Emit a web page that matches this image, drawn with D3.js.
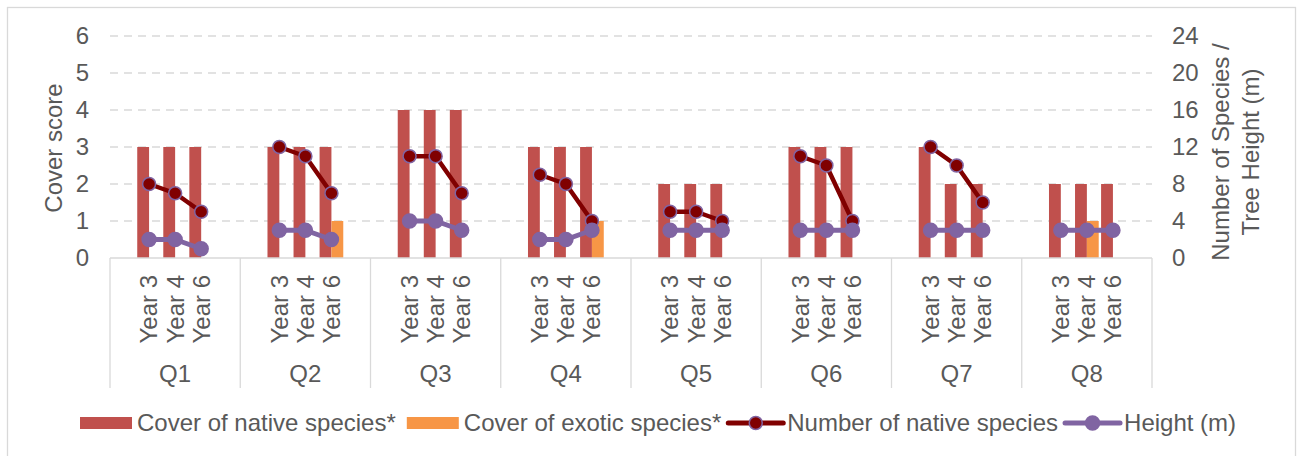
<!DOCTYPE html>
<html>
<head>
<meta charset="utf-8">
<script src="https://cdn.jsdelivr.net/npm/d3@7"></script>
<style>
  html, body { margin: 0; padding: 0; background: #fff; }
  svg text { font-family: "Liberation Sans", Arial, sans-serif; fill: #595959; }
</style>
</head>
<body>
<svg id="chart" width="1300" height="456"></svg>
<script>
const categories = ["Q1", "Q2", "Q3", "Q4", "Q5", "Q6", "Q7", "Q8"];
const years = ["Year 3", "Year 4", "Year 6"];
const nativeCover = [[3,3,3],[3,3,3],[4,4,4],[3,3,3],[2,2,2],[3,3,3],[3,2,2],[2,2,2]];
const exoticCover = [[0,0,0],[0,0,1],[0,0,0],[0,0,1],[0,0,0],[0,0,0],[0,0,0],[0,1,0]];
const nativeSpecies = [[8,7,5],[12,11,7],[11,11,7],[9,8,4],[5,5,4],[11,10,4],[12,10,6],[null,null,null]];
const heightM = [[2,2,1],[3,3,2],[4,4,3],[2,2,3],[3,3,3],[3,3,3],[3,3,3],[3,3,3]];
const leftTicks = [0, 1, 2, 3, 4, 5, 6];
const rightTicks = [0, 4, 8, 12, 16, 20, 24];
const seriesNames = ["Cover of native species*", "Cover of exotic species*", "Number of native species", "Height (m)"];

const C_NATIVE = "#C0504D", C_EXOTIC = "#F79646", C_NUM = "#800000", C_HT = "#8064A2";
const GRID = "#D9D9D9";
const FS = 24;

const svg = d3.select("#chart");
const plot = { left: 110, right: 1152, top: 36, bottom: 258 };

// outer border
svg.append("rect").attr("x", 7.5).attr("y", 7.5).attr("width", 1288).attr("height", 470)
  .attr("fill", "#fff").attr("stroke", GRID).attr("stroke-width", 1.3);

const x0 = d3.scaleBand().domain(categories).range([plot.left, plot.right]).paddingInner(0).paddingOuter(0);
const x1 = d3.scaleBand().domain(years).range([0, x0.bandwidth()]).paddingInner(0).paddingOuter(1);
const x2 = d3.scaleBand().domain(["native", "exotic"]).range([0, x1.bandwidth()]).paddingInner(0).paddingOuter(0.1);
const yL = d3.scaleLinear().domain([0, 6]).range([plot.bottom, plot.top]);
const yR = d3.scaleLinear().domain([0, 24]).range([plot.bottom, plot.top]);

// gridlines
svg.append("g").selectAll("line").data(leftTicks.filter(d => d > 0)).join("line")
  .attr("x1", plot.left).attr("x2", plot.right)
  .attr("y1", d => yL(d)).attr("y2", d => yL(d))
  .attr("stroke", GRID).attr("stroke-width", 1.3).attr("stroke-dasharray", "8,6");

// left axis labels
const gL = svg.append("g").attr("transform", `translate(${plot.left},0)`)
  .call(d3.axisLeft(yL).tickValues(leftTicks).tickSize(0).tickPadding(21).tickFormat(d3.format("d")));
gL.select(".domain").remove();
gL.selectAll("text").attr("font-size", FS).attr("fill", "#595959").attr("font-family", "Liberation Sans, Arial, sans-serif");

// right axis labels
const gR = svg.append("g").attr("transform", `translate(${plot.right},0)`)
  .call(d3.axisRight(yR).tickValues(rightTicks).tickSize(0).tickPadding(20).tickFormat(d3.format("d")));
gR.select(".domain").remove();
gR.selectAll("text").attr("font-size", FS).attr("fill", "#595959").attr("font-family", "Liberation Sans, Arial, sans-serif");

// axis titles
svg.append("text").attr("transform", "translate(54,148) rotate(-90)")
  .attr("text-anchor", "middle").attr("dy", "0.35em").attr("font-size", FS).text("Cover score");
svg.append("text").attr("transform", "translate(1221,152) rotate(-90)")
  .attr("text-anchor", "middle").attr("dy", "0.35em").attr("font-size", FS).text("Number of Species /");
svg.append("text").attr("transform", "translate(1251,152) rotate(-90)")
  .attr("text-anchor", "middle").attr("dy", "0.35em").attr("font-size", FS).text("Tree Height (m)");

// bars
const barData = [];
categories.forEach((c, i) => years.forEach((yr, j) => {
  barData.push({ c, yr, key: "native", v: nativeCover[i][j] });
  barData.push({ c, yr, key: "exotic", v: exoticCover[i][j] });
}));
svg.append("g").selectAll("rect").data(barData.filter(d => d.v > 0)).join("rect")
  .attr("x", d => x0(d.c) + x1(d.yr) + x2(d.key))
  .attr("width", x2.bandwidth())
  .attr("y", d => yL(d.v))
  .attr("height", d => yL(0) - yL(d.v))
  .attr("fill", d => d.key === "native" ? C_NATIVE : C_EXOTIC);

// x axis line and separators
svg.append("line").attr("x1", plot.left).attr("x2", plot.right).attr("y1", plot.bottom).attr("y2", plot.bottom)
  .attr("stroke", GRID).attr("stroke-width", 1.3);
const bounds = categories.map(c => x0(c)).concat([x0(categories[categories.length - 1]) + x0.bandwidth()]);
svg.append("g").selectAll("line").data(bounds).join("line")
  .attr("x1", d => d).attr("x2", d => d).attr("y1", plot.bottom).attr("y2", 388)
  .attr("stroke", GRID).attr("stroke-width", 1.3);

// year labels
const yearLabels = [];
categories.forEach(c => years.forEach(yr => yearLabels.push({ c, yr })));
svg.append("g").selectAll("text").data(yearLabels).join("text")
  .attr("transform", d => `translate(${x0(d.c) + x1(d.yr) + x1.bandwidth() / 2},275) rotate(-90)`)
  .attr("text-anchor", "end").attr("dy", "0.35em").attr("font-size", FS).text(d => d.yr);
// category labels
svg.append("g").selectAll("text").data(categories).join("text")
  .attr("x", d => x0(d) + x0.bandwidth() / 2).attr("y", 382)
  .attr("text-anchor", "middle").attr("font-size", FS).text(d => d);

// lines
function drawSeries(values, color, lw, r, stroke) {
  const line = d3.line().defined(d => d.v != null)
    .x(d => x0(d.c) + x1(d.yr) + x1.bandwidth() / 2).y(d => yR(d.v));
  const g = svg.append("g");
  categories.forEach((c, i) => {
    const pts = years.map((yr, j) => ({ c, yr, v: values[i][j] }));
    g.append("path").datum(pts).attr("d", line).attr("fill", "none")
      .attr("stroke", color).attr("stroke-width", lw).attr("stroke-linejoin", "round");
    g.selectAll(null).data(pts.filter(d => d.v != null)).join("circle")
      .attr("cx", d => x0(d.c) + x1(d.yr) + x1.bandwidth() / 2).attr("cy", d => yR(d.v))
      .attr("r", r).attr("fill", color).attr("stroke", stroke).attr("stroke-width", 1.5);
  });
}
drawSeries(nativeSpecies, C_NUM, 4.5, 6.5, C_HT);
drawSeries(heightM, C_HT, 5, 7, C_HT);

// legend
const leg = svg.append("g");
let lx = 80;
const ly = 423;
seriesNames.forEach((name, i) => {
  if (i < 2) {
    leg.append("rect").attr("x", lx).attr("y", ly - 6).attr("width", 52).attr("height", 12)
      .attr("fill", i === 0 ? C_NATIVE : C_EXOTIC);
    lx += 57;
  } else {
    const col = i === 2 ? C_NUM : C_HT;
    leg.append("line").attr("x1", lx).attr("x2", lx + 55).attr("y1", ly).attr("y2", ly)
      .attr("stroke", col).attr("stroke-width", 5).attr("stroke-linecap", "round");
    leg.append("circle").attr("cx", lx + 27.5).attr("cy", ly).attr("r", i === 2 ? 6.5 : 7)
      .attr("fill", col).attr("stroke", C_HT).attr("stroke-width", 1.5);
    lx += 59;
  }
  const t = leg.append("text").attr("x", lx).attr("y", ly).attr("dy", "0.35em")
    .attr("font-size", FS).text(name);
  lx += t.node().getComputedTextLength() + (i === 0 ? 11 : 7);
});
</script>
</body>
</html>
